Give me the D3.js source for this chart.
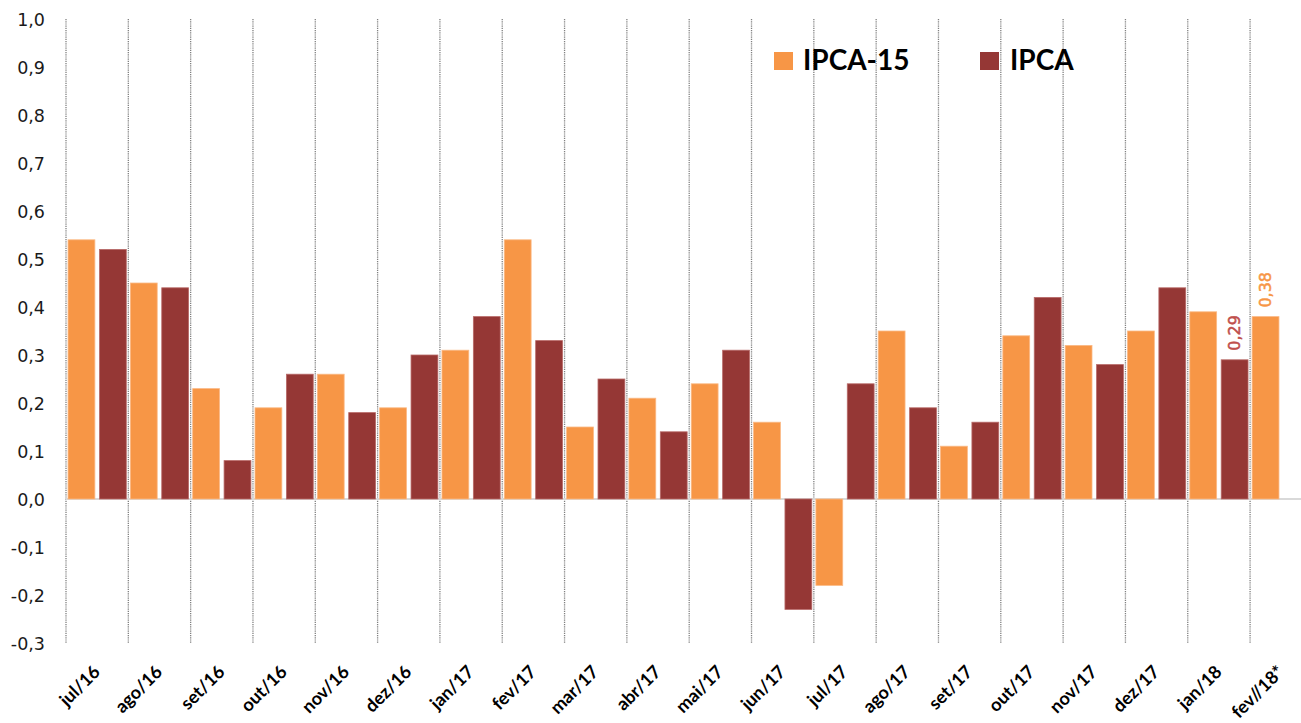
<!DOCTYPE html>
<html>
<head>
<meta charset="utf-8">
<script src="https://cdn.jsdelivr.net/npm/d3@7"></script>
<style>
  html, body { margin: 0; padding: 0; background: #fff; overflow: hidden; }
  svg { display: block; }
</style>
</head>
<body>
<svg id="chart" width="1301" height="723"></svg>
<script>
// ---- data ----
const categories = ["jul/16","ago/16","set/16","out/16","nov/16","dez/16","jan/17","fev/17","mar/17","abr/17","mai/17","jun/17","jul/17","ago/17","set/17","out/17","nov/17","dez/17","jan/18","fev//18*"];
const seriesNames = ["IPCA-15", "IPCA"];
const ipca15 = [0.54,0.45,0.23,0.19,0.26,0.19,0.31,0.54,0.15,0.21,0.24,0.16,-0.18,0.35,0.11,0.34,0.32,0.35,0.39,0.38];
const ipca   = [0.52,0.44,0.08,0.26,0.18,0.30,0.38,0.33,0.25,0.14,0.31,-0.23,0.24,0.19,0.16,0.42,0.28,0.44,0.29,null];
const yTicks = [-0.3,-0.2,-0.1,0.0,0.1,0.2,0.3,0.4,0.5,0.6,0.7,0.8,0.9,1.0];
const labelledPoints = [ {category: "jan/18", series: "IPCA"}, {category: "fev//18*", series: "IPCA-15"} ];

const colors = { "IPCA-15": "#F79646", "IPCA": "#953735" };
const strokeColors = { "IPCA-15": "#FBB985", "IPCA": "#B86A68" };
const labelColors = { "IPCA-15": "#F79646", "IPCA": "#C0504D" };

const valuesBySeries = { "IPCA-15": ipca15, "IPCA": ipca };

// ---- layout ----
const svg = d3.select("#chart");
const plotLeft = 66, groupW = 62.32;
const plotRight = plotLeft + groupW * categories.length;
const plotTop = 19, plotBottom = 643;

const x0 = d3.scaleBand().domain(categories).range([plotLeft, plotRight]).paddingInner(0).paddingOuter(0);
const x1 = d3.scaleBand().domain(seriesNames).range([0, x0.bandwidth()]).paddingInner(0.145).paddingOuter(0.065);
const y = d3.scaleLinear().domain([-0.3, 1.0]).range([plotBottom, plotTop]);

const fmt = v => d3.format(".1f")(v).replace(".", ",").replace("−", "-");
const fmt2 = v => d3.format(".2f")(v).replace(".", ",");

// vertical dotted gridlines at category boundaries
const boundaries = categories.map(c => x0(c)).concat([plotRight]);
svg.append("g").selectAll("line").data(boundaries).join("line")
  .attr("x1", d => d).attr("x2", d => d)
  .attr("y1", plotTop).attr("y2", plotBottom)
  .attr("stroke", "#7f7f7f").attr("stroke-width", 1.3)
  .attr("stroke-dasharray", "1.2,1");

// y axis labels
const yAxis = d3.axisLeft(y).tickValues(yTicks).tickFormat(fmt).tickSize(0).tickPadding(0);
const gy = svg.append("g").attr("transform", `translate(45,0)`).call(yAxis);
gy.select(".domain").remove();
gy.selectAll("text")
  .attr("font-family", "'DejaVu Sans', Verdana, sans-serif")
  .attr("font-size", 17.5).attr("fill", "#1a1a1a")
  .attr("dy", "0.36em");

// zero line
svg.append("line")
  .attr("x1", plotLeft).attr("x2", plotRight)
  .attr("y1", y(0)).attr("y2", y(0))
  .attr("stroke", "#d9d9d9").attr("stroke-width", 2);

// bars
const barData = [];
categories.forEach((c, i) => {
  seriesNames.forEach(s => {
    const v = valuesBySeries[s][i];
    if (v !== null && v !== undefined) barData.push({ category: c, series: s, value: v });
  });
});

svg.append("g").selectAll("rect").data(barData).join("rect")
  .attr("x", d => x0(d.category) + x1(d.series))
  .attr("width", x1.bandwidth())
  .attr("y", d => y(Math.max(0, d.value)))
  .attr("height", d => Math.abs(y(d.value) - y(0)))
  .attr("fill", d => colors[d.series])
  .attr("stroke", d => strokeColors[d.series])
  .attr("stroke-width", 0.8);

// data labels (rotated)
const labelData = labelledPoints.map(p => {
  const i = categories.indexOf(p.category);
  return { ...p, value: valuesBySeries[p.series][i] };
});
svg.append("g").selectAll("text").data(labelData).join("text")
  .attr("transform", d => {
    const cx = x0(d.category) + x1(d.series) + x1.bandwidth() / 2;
    const cy = y(d.value) - 9;
    return `translate(${cx},${cy}) rotate(-90)`;
  })
  .attr("text-anchor", "start")
  .attr("dy", "0.36em")
  .attr("font-family", "'DejaVu Sans', Verdana, sans-serif")
  .attr("font-size", 16)
  .attr("stroke", d => labelColors[d.series])
  .attr("stroke-width", 0.5)
  .attr("fill", d => labelColors[d.series])
  .text(d => fmt2(d.value));

// x axis labels
const gx = svg.append("g");
gx.selectAll("text").data(categories).join("text")
  .attr("transform", d => `translate(${x0(d) + x0.bandwidth() / 2 + 4},${673}) rotate(-45)`)
  .attr("text-anchor", "end")
  .attr("font-family", "Lato, 'Open Sans', sans-serif")
  .attr("font-weight", "bold")
  .attr("font-size", 18)
  .attr("fill", "#000")
  .text(d => d);

// legend
const legendItems = [
  { name: "IPCA-15", sx: 774, tx: 803 },
  { name: "IPCA", sx: 980, tx: 1010 }
];
const lg = svg.append("g");
lg.selectAll("rect").data(legendItems).join("rect")
  .attr("x", d => d.sx).attr("y", 52).attr("width", 19).attr("height", 18)
  .attr("fill", d => colors[d.name]);
lg.selectAll("text").data(legendItems).join("text")
  .attr("x", d => d.tx).attr("y", 70)
  .attr("font-family", "Lato, 'Open Sans', sans-serif")
  .attr("font-weight", "bold").attr("font-size", 28)
  .attr("fill", "#000")
  .text(d => d.name);
</script>
</body>
</html>
